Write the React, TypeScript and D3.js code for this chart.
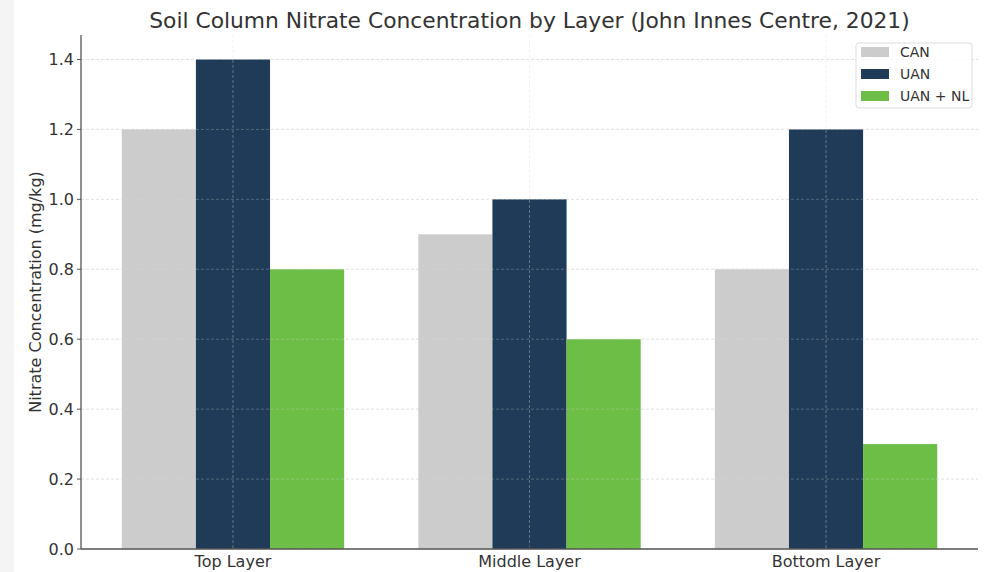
import React from "react";
import * as d3 from "d3";

const categories = ["Top Layer", "Middle Layer", "Bottom Layer"];
const seriesNames = ["CAN", "UAN", "UAN + NL"];
const canValues = [1.2, 0.9, 0.8];
const uanValues = [1.4, 1.0, 1.2];
const uanNlValues = [0.8, 0.6, 0.3];
const yTicks = [0, 0.2, 0.4, 0.6, 0.8, 1.0, 1.2, 1.4];
const colors = ["#cccccc", "#1f3b57", "#6cbe47"];

const W = 989;
const H = 572;
const FONT = "DejaVu Sans, sans-serif";

export default function App() {
  const left = 81, right = 978, top = 35, bottom = 549;
  const series = [canValues, uanValues, uanNlValues];
  const barW = 0.25;
  const x = d3.scaleLinear().domain([-0.5125, 2.5125]).range([left, right]);
  const y = d3.scaleLinear().domain([0, 1.47]).range([bottom, top]);
  const gridColor = "#dddddd";
  const textColor = "#333333";

  return (
    <div style={{ position: "absolute", left: 0, top: 0 }}>
      <svg width={W} height={H} style={{ display: "block" }}>
        <rect x={0} y={0} width={W} height={H} fill="#ffffff" />
        <rect x={0} y={0} width={14} height={H} fill="#f4f4f4" />
        {/* grid */}
        {yTicks.map((t) => (
          <line key={"gy" + t} x1={left} x2={right} y1={y(t)} y2={y(t)} stroke={gridColor} strokeWidth={0.8} strokeDasharray="3,2" />
        ))}
        {/* bars */}
        {series.map((vals, si) =>
          vals.map((v, ci) => {
            const x0 = x(ci + (si - 1) * barW - barW / 2);
            const x1 = x(ci + (si - 1) * barW + barW / 2);
            return (
              <rect key={si + "-" + ci} x={x0} y={y(v)} width={x1 - x0} height={y(0) - y(v)} fill={colors[si]} />
            );
          })
        )}
        {/* vertical grid drawn over bars */}
        {categories.map((c, i) => (
          <line key={"gx" + c} x1={x(i)} x2={x(i)} y1={top} y2={bottom} stroke={gridColor} strokeOpacity={0.45} strokeWidth={0.8} strokeDasharray="3,2" />
        ))}
        {yTicks.map((t) => (
          <line key={"gy2" + t} x1={left} x2={right} y1={y(t)} y2={y(t)} stroke={gridColor} strokeOpacity={0.35} strokeWidth={0.8} strokeDasharray="3,2" />
        ))}
        {/* axes */}
        <line x1={left} x2={left} y1={top} y2={bottom} stroke="#555555" strokeWidth={1.3} />
        <line x1={left} x2={right} y1={bottom} y2={bottom} stroke="#555555" strokeWidth={1.3} />
        {yTicks.map((t) => (
          <g key={"yt" + t}>
            <line x1={left - 4} x2={left} y1={y(t)} y2={y(t)} stroke="#555555" strokeWidth={1} />
            <text x={left - 7} y={y(t)} dy="0.35em" textAnchor="end" fontFamily={FONT} fontSize={16} fill={textColor}>
              {t.toFixed(1)}
            </text>
          </g>
        ))}
        {categories.map((c, i) => (
          <g key={"xt" + c}>
            <line x1={x(i)} x2={x(i)} y1={bottom - 4} y2={bottom} stroke="#555555" strokeWidth={1} />
            <text x={x(i)} y={bottom + 18} textAnchor="middle" fontFamily={FONT} fontSize={16} fill={textColor}>
              {c}
            </text>
          </g>
        ))}
        <text
          transform={`translate(41,${(top + bottom) / 2}) rotate(-90)`}
          textAnchor="middle"
          fontFamily={FONT}
          fontSize={16}
          fill={textColor}
        >
          Nitrate Concentration (mg/kg)
        </text>
        <text x={(left + right) / 2} y={28} textAnchor="middle" fontFamily={FONT} fontSize={21.8} fill={textColor}>
          Soil Column Nitrate Concentration by Layer (John Innes Centre, 2021)
        </text>
        {/* legend */}
        <g>
          <rect x={856} y={43} width={116} height={65} rx={3} fill="#ffffff" fillOpacity={0.85} stroke="#dddddd" strokeWidth={1} />
          {seriesNames.map((s, i) => (
            <g key={"lg" + s}>
              <rect x={861} y={47 + i * 22} width={28} height={10} fill={colors[i]} />
              <text x={900} y={52 + i * 22} dy="0.35em" fontFamily={FONT} fontSize={14} fill={textColor}>
                {s}
              </text>
            </g>
          ))}
        </g>
      </svg>
    </div>
  );
}
